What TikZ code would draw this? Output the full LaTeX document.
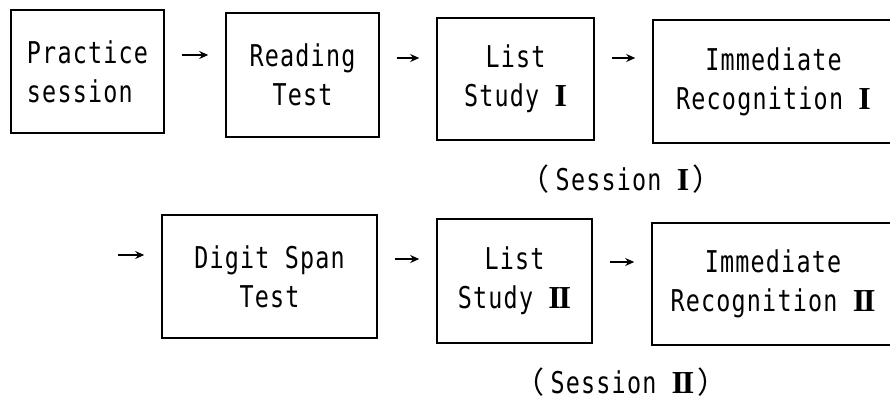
\documentclass[tikz,border=0pt]{standalone}
\usepackage{fontspec}
\setmonofont[FakeStretch=0.78, LetterSpace=4]{DejaVu Sans Mono}
\newfontfamily\cjk{Noto Sans CJK JP}
\newfontfamily\romfont{Liberation Serif}
\usetikzlibrary{arrows.meta}
\newcommand{\RomOne}{{\romfont\bfseries\fontsize{32}{38}\selectfont I}}
\newcommand{\RomTwo}{{\romfont\bfseries\fontsize{32}{38}\selectfont I\kern-2.2pt I}}
\tikzset{
  stage/.style={draw, line width=1.6pt, rectangle, inner sep=0pt,
    font=\ttfamily\fontsize{30}{39}\selectfont, align=center},
  flow/.style={line width=1.6pt, -{Stealth[length=9pt,width=8pt]},
    shorten <=17pt, shorten >=17pt},
  caption/.style={font=\ttfamily\fontsize{30}{34}\selectfont, anchor=base}
}
\begin{document}
\begin{tikzpicture}[x=1pt,y=-1pt]
  \clip (0,0) rectangle (890,401);
  \useasboundingbox (0,0) rectangle (890,401);

  % Session I
  \node[stage, minimum width=153pt, minimum height=123pt, align=left] (b1) at (87.5,71.5) {Practice\\session};
  \node[stage, minimum width=153pt, minimum height=124pt] (b2) at (302.5,75) {Reading\\Test};
  \node[stage, minimum width=157pt, minimum height=122pt] (b3) at (515.5,79) {List\\Study \RomOne};
  \node[stage, minimum width=241pt, minimum height=123pt] (b4) at (773.5,81.5) {Immediate\\Recognition \RomOne};

  \draw[flow] (b1.east |- 0,55) -- (b2.west |- 0,55);
  \draw[flow] (b2.east |- 0,58) -- (b3.west |- 0,58);
  \draw[flow] (b3.east |- 0,58) -- (b4.west |- 0,58);

  \node[caption] (s1) at (621,190) {{\cjk （}\kern6pt Session \RomOne\kern3pt{\cjk ）}};

  % Session II
  \coordinate (start2) at (118,255);
  \node[stage, minimum width=215pt, minimum height=123pt] (b5) at (269.5,276.5) {Digit Span\\Test};
  \node[stage, minimum width=155pt, minimum height=124pt] (b6) at (514.5,281) {List\\Study \RomTwo};
  \node[stage, minimum width=242pt, minimum height=122pt] (b7) at (773,284) {Immediate\\Recognition \RomTwo};

  \draw[flow, shorten <=0pt] (start2) -- (b5.west |- start2);
  \draw[flow] (b5.east |- 0,259) -- (b6.west |- 0,259);
  \draw[flow] (b6.east |- 0,262) -- (b7.west |- 0,262);

  \node[caption] (s2) at (621,393) {{\cjk （}\kern6pt Session \RomTwo\kern3pt{\cjk ）}};
\end{tikzpicture}
\end{document}
